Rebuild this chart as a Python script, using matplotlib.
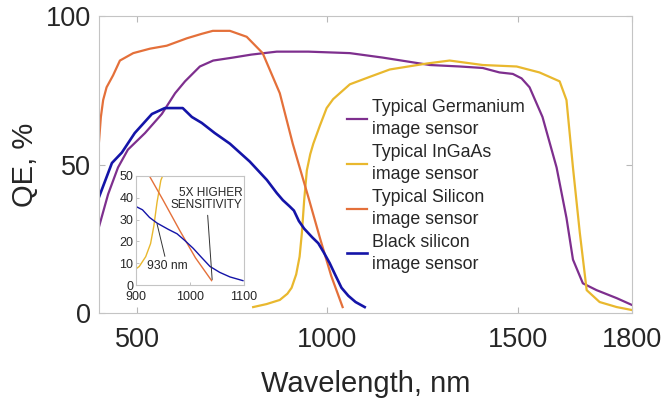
import matplotlib as mpl
mpl.use('Agg')
import matplotlib.pyplot as plt

# Data (wavelength nm, QE %)
ge_nm = [400, 424, 450, 476, 521, 565, 600, 626, 665, 700, 752, 800, 867, 950, 1059,
         1145, 1269, 1348, 1408, 1452, 1487, 1510, 1531, 1565, 1602, 1628, 1645, 1671,
         1707, 1760, 1800]
ge_qe = [29, 40, 49, 55, 60.6, 67, 74, 78, 83, 85, 86, 87, 88, 88, 87.5,
         86, 83.5, 83, 82.5, 81, 80.5, 79, 76, 66, 49, 32, 18, 10,
         7.7, 5, 2.7]

ingaas_nm = [805, 840, 875, 895, 906, 918, 927, 933, 939, 946, 955, 963, 980, 998, 1015,
             1059, 1111, 1164, 1261, 1321, 1408, 1497, 1557, 1610, 1628, 1645, 1663, 1681,
             1715, 1760, 1800]
ingaas_qe = [2, 3, 4.4, 6.5, 8.5, 13, 19, 27, 38, 48, 53.5, 57, 63, 69, 72,
             77, 79.5, 82, 84, 85, 83.5, 83, 81, 78, 71.7, 49, 27, 7.7,
             3.7, 2, 1]

si_nm = [400, 405, 411, 420, 437, 455, 490, 534, 578, 631, 670, 699, 744, 788, 830,
         875, 909, 926, 950, 981, 1010, 1040]
si_qe = [57.6, 66, 71.7, 76, 80, 85, 87.5, 89, 90, 92.5, 94, 95, 95, 93, 87.5,
         74, 57, 49.5, 39, 25, 12.5, 2]

bsi_nm = [400, 434, 460, 494, 539, 573, 620, 644, 670, 704, 744, 796, 841, 867, 883,
          900, 912, 925, 939, 960, 976, 990, 1006, 1020, 1037, 1055, 1074, 1098]
bsi_qe = [39, 50.5, 54, 60.6, 67, 69, 69, 66, 64, 60.6, 57, 51, 44.8, 40.4, 38,
          36, 34.5, 31, 28.4, 25.5, 23.5, 20.5, 16.8, 13, 8.5, 5.8, 3.7, 2]

labels = ['Typical Germanium\nimage sensor', 'Typical InGaAs\nimage sensor',
          'Typical Silicon\nimage sensor', 'Black silicon\nimage sensor']
colors = ['#7E2F8E', '#E9B82E', '#E4703A', '#1414A8']

# General plot parameters
mpl.rcParams['font.family'] = 'Liberation Sans'
mpl.rcParams['text.color'] = '#262626'
mpl.rcParams['xtick.color'] = '#b8b8b8'
mpl.rcParams['ytick.color'] = '#b8b8b8'
mpl.rcParams['xtick.labelcolor'] = '#262626'
mpl.rcParams['ytick.labelcolor'] = '#262626'
mpl.rcParams['xtick.direction'] = 'in'
mpl.rcParams['ytick.direction'] = 'in'
mpl.rcParams['xtick.top'] = True
mpl.rcParams['ytick.right'] = True
mpl.rcParams['axes.edgecolor'] = '#c4c4c4'
mpl.rcParams['axes.linewidth'] = 0.8

fig = plt.figure(figsize=(6.66, 3.99), dpi=100)
ax = fig.add_axes([0.1486, 0.2155, 0.8003, 0.7444])

series = [(ge_nm, ge_qe), (ingaas_nm, ingaas_qe), (si_nm, si_qe), (bsi_nm, bsi_qe)]
for (x, y), c, lab in zip(series, colors, labels):
    lw = 1.9 if c == colors[3] else 1.6
    ax.plot(x, y, color=c, linewidth=lw, label=lab)

ax.set_xlim(400, 1800)
ax.set_ylim(0, 100)
ax.set_xticks([500, 1000, 1500, 1800])
ax.set_yticks([0, 50, 100])
ax.tick_params(labelsize=19.5, length=4, width=0.8)
ax.tick_params(axis='x', pad=10)
ax.tick_params(axis='y', pad=6)
ax.set_xlabel('Wavelength, nm', fontsize=21, color='#262626', labelpad=12)
ax.set_ylabel('QE, %', fontsize=21, color='#262626')
ax.yaxis.set_label_coords(-0.113, 0.5)

leg = ax.legend(loc='upper left', bbox_to_anchor=(0.465, 0.72), frameon=False,
                fontsize=12.8, handlelength=1.15, handletextpad=0.25,
                labelspacing=0.33, borderpad=0, borderaxespad=0)
for t in leg.get_texts():
    t.set_linespacing(1.38)

# Inset zoom on 900-1100 nm
ins = fig.add_axes([0.2042, 0.2857, 0.1622, 0.2732])
for (x, y), c in zip(series, colors):
    ins.plot(x, y, color=c, linewidth=1.0)
ins.set_xlim(900, 1100)
ins.set_ylim(0, 50)
ins.set_xticks([900, 1000, 1100])
ins.set_yticks([0, 10, 20, 30, 40, 50])
ins.tick_params(labelsize=9, length=2.5, width=0.6, pad=2)
ins.tick_params(axis='x', pad=4.5)
ins.tick_params(top=False, right=False)

ins.annotate('930 nm', xy=(939, 28), xytext=(958, 8.5), fontsize=8.7,
             ha='center', va='center',
             arrowprops=dict(arrowstyle='-', color='#333333', lw=0.7,
                             shrinkA=1, shrinkB=0))
ins.annotate('5X HIGHER\nSENSITIVITY', xy=(1041, 2.5), xytext=(1097, 39.5),
             fontsize=8.5, ha='right', va='center', linespacing=1.05,
             arrowprops=dict(arrowstyle='-', color='#333333', lw=0.7,
                             shrinkA=1, shrinkB=0))

fig.savefig('out.png', dpi=100)
